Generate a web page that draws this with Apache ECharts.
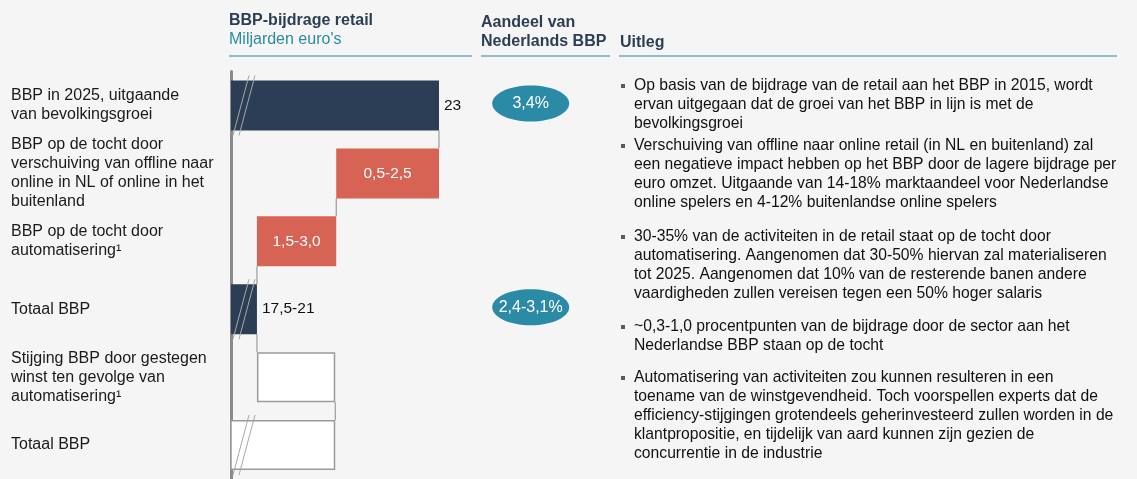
<!DOCTYPE html>
<html>
<head>
<meta charset="utf-8">
<script src="https://cdn.jsdelivr.net/npm/echarts@6/dist/echarts.min.js"></script>
<style>
  html, body { margin: 0; padding: 0; background: #f5f5f5; }
  #chart { width: 1137px; height: 479px; }
</style>
</head>
<body>
<div id="chart"></div>
<script>
  // rows of the waterfall, top to bottom
  var categories = [
    'BBP in 2025, uitgaande\nvan bevolkingsgroei',
    'BBP op de tocht door\nverschuiving van offline naar\nonline in NL of online in het\nbuitenland',
    'BBP op de tocht door\nautomatisering\u00b9',
    'Totaal BBP',
    'Stijging BBP door gestegen\nwinst ten gevolge van\nautomatisering\u00b9',
    'Totaal BBP'
  ];
  // drawn bar lengths (schematic, axis is broken)
  var barValues = [23, 2.1, 1.62, 19.28, 1.6, 20.88];
  var barKind = ['total', 'down', 'down', 'total', 'up', 'total'];
  var valueLabels = ['23', '0,5-2,5', '1,5-3,0', '17,5-21', '', ''];
  var shareLabels = ['3,4%', '', '', '2,4-3,1%', '', ''];
  var bullets = [
    'Op basis van de bijdrage van de retail aan het BBP in 2015, wordt\nervan uitgegaan dat de groei van het BBP in lijn is met de\nbevolkingsgroei',
    'Verschuiving van offline naar online retail (in NL en buitenland) zal\neen negatieve impact hebben op het BBP door de lagere bijdrage per\neuro omzet. Uitgaande van 14-18% marktaandeel voor Nederlandse\nonline spelers en 4-12% buitenlandse online spelers',
    '30-35% van de activiteiten in de retail staat op de tocht door\nautomatisering. Aangenomen dat 30-50% hiervan zal materialiseren\ntot 2025. Aangenomen dat 10% van de resterende banen andere\nvaardigheden zullen vereisen tegen een 50% hoger salaris',
    '~0,3-1,0 procentpunten van de bijdrage door de sector aan het\nNederlandse BBP staan op de tocht',
    'Automatisering van activiteiten zou kunnen resulteren in een\ntoename van de winstgevendheid. Toch voorspellen experts dat de\nefficiency-stijgingen grotendeels geherinvesteerd zullen worden in de\nklantpropositie, en tijdelijk van aard kunnen zijn gezien de\nconcurrentie in de industrie'
  ];
  var bulletTop = [86, 146, 237, 327, 378];

  var axisMin = 18.75, axisMax = 23.75;
  var navy = '#2c3e55', red = '#d76355', teal = '#2b8aa6';
  var font = '"Liberation Sans", Arial, sans-serif';

  // helper (invisible) part and connectors from the running level
  var helper = [], visible = [], connectors = [], breaks = [], shares = [];
  var level = 0;
  for (var i = 0; i < barValues.length; i++) {
    var v = barValues[i], kind = barKind[i], style;
    if (kind === 'total') {
      helper.push(0); level = v;
      style = { color: navy };
      breaks.push([axisMin, i]);
    } else if (kind === 'down') {
      level = level - v; helper.push(level);
      style = { color: red };
    } else {
      helper.push(level); level = level + v;
      style = { color: '#ffffff', borderColor: '#9a9a9a', borderWidth: 1.5 };
    }
    if (i >= 4) style = { color: '#ffffff', borderColor: '#9a9a9a', borderWidth: 1.5 };
    visible.push({
      value: v,
      itemStyle: style,
      label: kind === 'down'
        ? { position: 'inside', color: '#ffffff' }
        : { position: 'right', color: '#111111', distance: 5 }
    });
    if (i < barValues.length - 1) connectors.push([level, i]);
    if (shareLabels[i]) shares.push([axisMax, i]);
  }
  var halfBar = 25;

  var graphics = [
    { type: 'text', left: 229, top: 13, style: { text: 'BBP-bijdrage retail', font: 'bold 16px ' + font, fill: navy } },
    { type: 'text', left: 229, top: 32, style: { text: "Miljarden euro's", font: '16px ' + font, fill: teal } },
    { type: 'line', shape: { x1: 229, y1: 56, x2: 472, y2: 56 }, style: { stroke: teal, lineWidth: 1.2 } },
    { type: 'text', left: 481, top: 13, style: { text: 'Aandeel van\nNederlands BBP', font: 'bold 16px ' + font, fill: navy, lineHeight: 19 } },
    { type: 'line', shape: { x1: 481, y1: 56, x2: 610, y2: 56 }, style: { stroke: teal, lineWidth: 1.2 } },
    { type: 'text', left: 620, top: 35, style: { text: 'Uitleg', font: 'bold 16px ' + font, fill: navy } },
    { type: 'line', shape: { x1: 619, y1: 56, x2: 1117, y2: 56 }, style: { stroke: teal, lineWidth: 1.2 } }
  ];
  bullets.forEach(function (txt, k) {
    graphics.push({ type: 'rect', shape: { x: 621, y: bulletTop[k] - 2, width: 4, height: 4 }, style: { fill: '#5a5a5a' } });
    graphics.push({ type: 'text', left: 634, top: bulletTop[k] - 9.5,
      style: { text: txt, font: '15.7px ' + font, fill: '#111111', lineHeight: 19 } });
  });

  var option = {
    backgroundColor: '#f5f5f5',
    animation: false,
    textStyle: { fontFamily: font },
    grid: { left: 231, top: 71.5, width: 244.7, height: 409 },
    xAxis: { type: 'value', min: axisMin, max: axisMax, show: false },
    yAxis: {
      type: 'category',
      inverse: true,
      data: categories,
      axisTick: { show: false },
      axisLine: { lineStyle: { color: '#8a8a8a', width: 3 } },
      axisLabel: { align: 'left', margin: 220, color: '#1a1a1a', fontSize: 16, lineHeight: 19 }
    },
    graphic: graphics,
    series: [
      {
        type: 'bar', stack: 'wf', barWidth: halfBar * 2, silent: true,
        itemStyle: { color: 'transparent' },
        data: helper
      },
      {
        type: 'bar', stack: 'wf', barWidth: halfBar * 2,
        label: {
          show: true, fontSize: 15.5,
          formatter: function (p) { return valueLabels[p.dataIndex]; }
        },
        data: visible
      },
      {
        // connector lines between bars
        type: 'custom',
        renderItem: function (params, api) {
          var a = api.coord([api.value(0), api.value(1)]);
          var b = api.coord([api.value(0), api.value(1) + 1]);
          return { type: 'line', shape: { x1: a[0], y1: a[1] + halfBar, x2: b[0], y2: b[1] - halfBar },
            style: { stroke: '#8a8a8a', lineWidth: 1 } };
        },
        data: connectors, z: 3
      },
      {
        // axis break marks on total bars
        type: 'custom',
        renderItem: function (params, api) {
          var p = api.coord([api.value(0), api.value(1)]);
          var st = { stroke: '#a8a8a8', lineWidth: 1 };
          return { type: 'group', children: [
            { type: 'line', shape: { x1: p[0] + 18, y1: p[1] - 30, x2: p[0] + 2, y2: p[1] + 30 }, style: st },
            { type: 'line', shape: { x1: p[0] + 24, y1: p[1] - 30, x2: p[0] + 8, y2: p[1] + 30 }, style: st }
          ] };
        },
        data: breaks, z: 4
      },
      {
        // share of Dutch GDP
        type: 'custom',
        renderItem: function (params, api) {
          var r = api.value(1);
          var p = api.coord([api.value(0), r]);
          return { type: 'group', children: [
            { type: 'ellipse', shape: { cx: p[0] + 55, cy: p[1] - 2, rx: 38.5, ry: 18 }, style: { fill: teal } },
            { type: 'text', x: p[0] + 55, y: p[1] - 2,
              style: { text: shareLabels[r], fill: '#ffffff', font: '16px ' + font, align: 'center', verticalAlign: 'middle' } }
          ] };
        },
        data: shares, z: 4
      }
    ]
  };

  var chart = echarts.init(document.getElementById('chart'));
  chart.setOption(option);
</script>
</body>
</html>
